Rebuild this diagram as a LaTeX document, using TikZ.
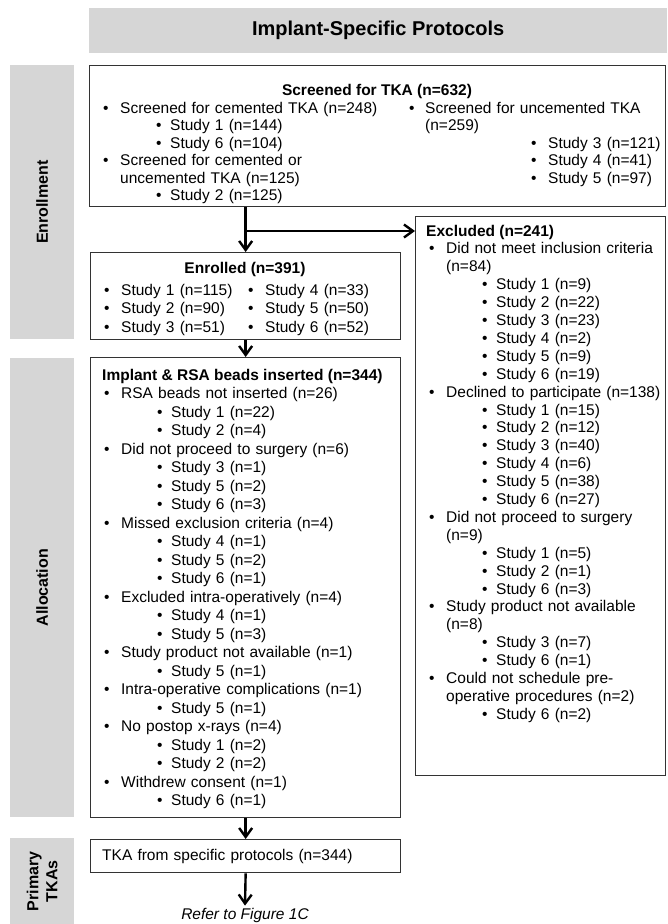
\documentclass[tikz,border=0pt]{standalone}
\usepackage{fontspec}
\setmainfont{Liberation Sans}
\usepackage{tikz}
\usetikzlibrary{arrows.meta,positioning}
\definecolor{barfill}{HTML}{D6D6D6}
\definecolor{edge}{HTML}{333333}

% bullet levels used in the boxes
\newcommand{\lone}[1]{\hspace*{14pt}\makebox[17pt][l]{\textbullet}#1}
\newcommand{\ltwo}[1]{\hspace*{67pt}\makebox[14pt][l]{\textbullet}#1}
\newcommand{\lcont}[1]{\hspace*{31pt}#1}
\newcommand{\bodyfont}[1]{\fontsize{15.5}{#1}\selectfont}

\begin{document}
\begin{tikzpicture}[x=1pt, y=-1pt,
  box/.style={draw=edge, line width=1.3pt, anchor=north west, inner sep=0pt},
  bar/.style={fill=barfill, anchor=north west, inner sep=0pt, minimum width=64pt},
  bartext/.style={rotate=90, font=\bfseries\fontsize{16}{19}\selectfont, align=center},
  lst/.style={anchor=base west, inner sep=0pt, align=left, text width=#1},
  ttl/.style={font=\bfseries\bodyfont{18}, inner sep=0pt, anchor=base},
  arr/.style={-{Straight Barb[length=9pt, width=13pt]}, line width=2.4pt}
]
\useasboundingbox (0,0) rectangle (667,924);

% header and side bars
\node[bar, minimum width=578pt, minimum height=45pt,
      font=\bfseries\fontsize{20}{24}\selectfont] (header) at (89,8) {Implant-Specific Protocols};
\node[bar, minimum height=274pt] (enrollbar) at (10,65) {};
\node[bar, minimum height=459pt] (allocbar)  at (10,358) {};
\node[bar, minimum height=86pt]  (primbar)   at (10,838) {};
\node[bartext] (enrolltxt) at (enrollbar.center) {Enrollment};
\node[bartext] (alloctxt)  at (allocbar.center)  {Allocation};
\node[bartext] (primtxt)   at (primbar.center)   {Primary\\TKAs};

% screening
\node[box, minimum width=576pt, minimum height=141pt] (screened) at (89,65) {};
\node[ttl] (screenedttl) at (377,95) {Screened for TKA (n=632)};
\node[lst=330pt, font=\bodyfont{17.5}] (screenedl) at (89,113) {%
\lone{Screened for cemented TKA (n=248)}\\
\ltwo{Study 1 (n=144)}\\
\ltwo{Study 6 (n=104)}\\
\lone{Screened for cemented or}\\
\lcont{uncemented TKA (n=125)}\\
\ltwo{Study 2 (n=125)}};
\node[lst=330pt, font=\bodyfont{17.5}] (screenedr) at (395,113) {%
\hspace*{14pt}\makebox[16pt][l]{\textbullet}Screened for uncemented TKA\\
\hspace*{30pt}(n=259)\\
\hspace*{136pt}\makebox[17pt][l]{\textbullet}Study 3 (n=121)\\
\hspace*{136pt}\makebox[17pt][l]{\textbullet}Study 4 (n=41)\\
\hspace*{136pt}\makebox[17pt][l]{\textbullet}Study 5 (n=97)};

% enrolled
\node[box, minimum width=310pt, minimum height=87pt] (enrolled) at (90,252) {};
\node[ttl] (enrolledttl) at (245,273) {Enrolled (n=391)};
\node[lst=330pt, font=\bodyfont{18.5}] (enrolledl) at (90,295) {%
\lone{\makebox[127pt][l]{Study 1 (n=115)}}\makebox[17pt][l]{\textbullet}Study 4 (n=33)\\
\lone{\makebox[127pt][l]{Study 2 (n=90)}}\makebox[17pt][l]{\textbullet}Study 5 (n=50)\\
\lone{\makebox[127pt][l]{Study 3 (n=51)}}\makebox[17pt][l]{\textbullet}Study 6 (n=52)};

% excluded
\node[box, minimum width=250pt, minimum height=559pt] (excluded) at (415,216) {};
\node[ttl, anchor=base west] (excludedttl) at (426,236) {Excluded (n=241)};
\node[lst=330pt, font=\bodyfont{17.9}] (excludedl) at (415,253.9) {%
\lone{Did not meet inclusion criteria}\\
\lcont{(n=84)}\\
\ltwo{Study 1 (n=9)}\\
\ltwo{Study 2 (n=22)}\\
\ltwo{Study 3 (n=23)}\\
\ltwo{Study 4 (n=2)}\\
\ltwo{Study 5 (n=9)}\\
\ltwo{Study 6 (n=19)}\\
\lone{Declined to participate (n=138)}\\
\ltwo{Study 1 (n=15)}\\
\ltwo{Study 2 (n=12)}\\
\ltwo{Study 3 (n=40)}\\
\ltwo{Study 4 (n=6)}\\
\ltwo{Study 5 (n=38)}\\
\ltwo{Study 6 (n=27)}\\
\lone{Did not proceed to surgery}\\
\lcont{(n=9)}\\
\ltwo{Study 1 (n=5)}\\
\ltwo{Study 2 (n=1)}\\
\ltwo{Study 6 (n=3)}\\
\lone{Study product not available}\\
\lcont{(n=8)}\\
\ltwo{Study 3 (n=7)}\\
\ltwo{Study 6 (n=1)}\\
\lone{Could not schedule pre-}\\
\lcont{operative procedures (n=2)}\\
\ltwo{Study 6 (n=2)}};

% implant and beads
\node[box, minimum width=310pt, minimum height=460pt] (implant) at (90,357) {};
\node[ttl, anchor=base west] (implantttl) at (102,380) {Implant \& RSA beads inserted (n=344)};
\node[lst=330pt, font=\bodyfont{18.5}] (implantl) at (90,398.5) {%
\lone{RSA beads not inserted (n=26)}\\
\ltwo{Study 1 (n=22)}\\
\ltwo{Study 2 (n=4)}\\
\lone{Did not proceed to surgery (n=6)}\\
\ltwo{Study 3 (n=1)}\\
\ltwo{Study 5 (n=2)}\\
\ltwo{Study 6 (n=3)}\\
\lone{Missed exclusion criteria (n=4)}\\
\ltwo{Study 4 (n=1)}\\
\ltwo{Study 5 (n=2)}\\
\ltwo{Study 6 (n=1)}\\
\lone{Excluded intra-operatively (n=4)}\\
\ltwo{Study 4 (n=1)}\\
\ltwo{Study 5 (n=3)}\\
\lone{Study product not available (n=1)}\\
\ltwo{Study 5 (n=1)}\\
\lone{Intra-operative complications (n=1)}\\
\ltwo{Study 5 (n=1)}\\
\lone{No postop x-rays (n=4)}\\
\ltwo{Study 1 (n=2)}\\
\ltwo{Study 2 (n=2)}\\
\lone{Withdrew consent (n=1)}\\
\ltwo{Study 6 (n=1)}};

% primary TKAs
\node[box, minimum width=310pt, minimum height=33pt] (tka) at (90,839) {};
\node[lst=290pt, font=\bodyfont{18}] (tkatxt) at (102,860) {TKA from specific protocols (n=344)};
\node[font=\itshape\bodyfont{18}, inner sep=2pt] (refer) at (245,915) {Refer to Figure 1C};

% connectors
\coordinate (split) at (245,231);
\draw[arr] (enrolled.north |- screened.south) -- (enrolled.north);
\draw[arr] (split) -- (split -| excluded.west);
\draw[arr] (enrolled.south) -- (implant.north);
\draw[arr] (implant.south) -- (tka.north);
\draw[arr] (tka.south) -- (refer.north);
\end{tikzpicture}
\end{document}
